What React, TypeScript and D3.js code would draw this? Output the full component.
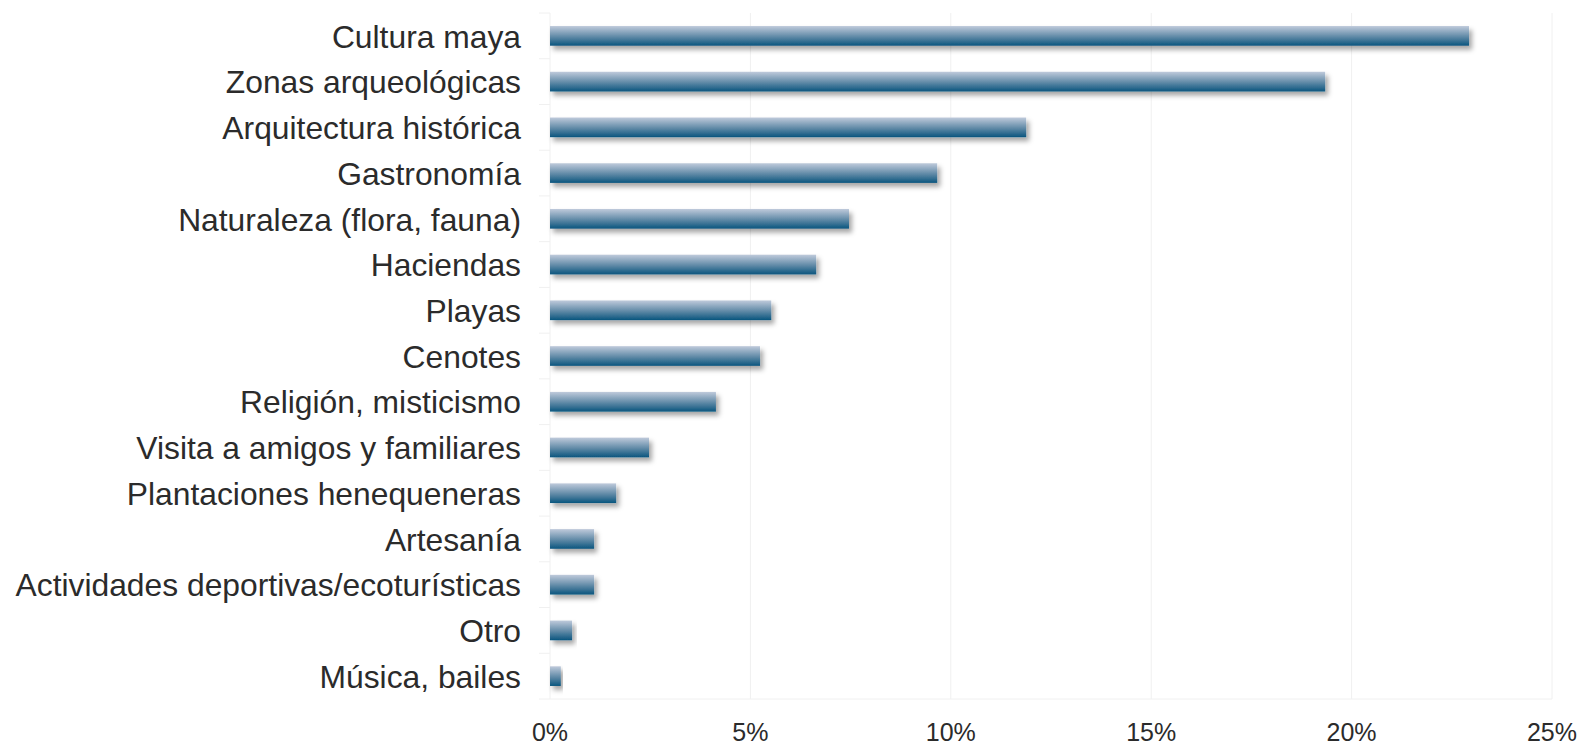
import React, { useEffect } from 'react';
import * as d3 from 'd3';

const categories: string[] = [
  'Cultura maya',
  'Zonas arqueológicas',
  'Arquitectura histórica',
  'Gastronomía',
  'Naturaleza (flora, fauna)',
  'Haciendas',
  'Playas',
  'Cenotes',
  'Religión, misticismo',
  'Visita a amigos y familiares',
  'Plantaciones henequeneras',
  'Artesanía',
  'Actividades deportivas/ecoturísticas',
  'Otro',
  'Música, bailes',
];

const values: number[] = [
  22.93, 19.34, 11.88, 9.66, 7.46, 6.64, 5.52, 5.24, 4.14, 2.47, 1.65, 1.1, 1.1,
  0.55, 0.27,
];

const xTicks: number[] = [0, 5, 10, 15, 20, 25];

interface Row {
  category: string;
  value: number;
}

export default function App() {
  useEffect(() => {
    const width = 1583;
    const height = 745;
    const margin = { top: 13, bottom: 46, left: 550, right: 31 };

    const rows: Row[] = categories.map((c, i) => ({ category: c, value: values[i] }));

    const container = d3.select('#chart');
    container.selectAll('*').remove();

    const svg = container
      .append('svg')
      .attr('width', width)
      .attr('height', height)
      .style('position', 'absolute')
      .style('left', 0)
      .style('top', 0)
      .style('font-family', 'Arial, "Liberation Sans", sans-serif');

    const defs = svg.append('defs');

    const grad = defs
      .append('linearGradient')
      .attr('id', 'barGrad')
      .attr('x1', 0)
      .attr('y1', 0)
      .attr('x2', 0)
      .attr('y2', 1);
    grad.append('stop').attr('offset', '0%').attr('stop-color', '#bfcadb');
    grad.append('stop').attr('offset', '55%').attr('stop-color', '#5f89a6');
    grad.append('stop').attr('offset', '100%').attr('stop-color', '#0a557e');

    const filter = defs
      .append('filter')
      .attr('id', 'barShadow')
      .attr('x', '-20%')
      .attr('y', '-40%')
      .attr('width', '140%')
      .attr('height', '200%');
    filter
      .append('feDropShadow')
      .attr('dx', 3)
      .attr('dy', 4)
      .attr('stdDeviation', 2.5)
      .attr('flood-color', '#000')
      .attr('flood-opacity', 0.35);

    const xScale = d3
      .scaleLinear()
      .domain([0, 25])
      .range([margin.left, width - margin.right]);

    const yScale = d3
      .scaleBand()
      .domain(categories)
      .range([margin.top, height - margin.bottom])
      .paddingInner(0.57)
      .paddingOuter(0.285);

    const step = yScale.step();

    // vertical grid lines
    svg
      .append('g')
      .selectAll('line')
      .data(xTicks)
      .enter()
      .append('line')
      .attr('x1', (d) => xScale(d))
      .attr('x2', (d) => xScale(d))
      .attr('y1', margin.top)
      .attr('y2', height - margin.bottom)
      .attr('stroke', '#f0f0f0')
      .attr('stroke-width', 1);

    // bottom line
    svg
      .append('line')
      .attr('x1', margin.left - 11)
      .attr('x2', width - margin.right)
      .attr('y1', height - margin.bottom)
      .attr('y2', height - margin.bottom)
      .attr('stroke', '#f0f0f0');

    // category ticks
    svg
      .append('g')
      .selectAll('line')
      .data(categories)
      .enter()
      .append('line')
      .attr('x1', margin.left - 11)
      .attr('x2', margin.left)
      .attr('y1', (d) => (yScale(d) as number) - (step - yScale.bandwidth()) / 2)
      .attr('y2', (d) => (yScale(d) as number) - (step - yScale.bandwidth()) / 2)
      .attr('stroke', '#f0f0f0');

    // bars
    svg
      .append('g')
      .selectAll('rect')
      .data(rows)
      .enter()
      .append('rect')
      .attr('x', xScale(0))
      .attr('y', (d) => yScale(d.category) as number)
      .attr('width', (d) => xScale(d.value) - xScale(0))
      .attr('height', yScale.bandwidth())
      .attr('fill', 'url(#barGrad)')
      .attr('filter', 'url(#barShadow)');

    // category labels
    svg
      .append('g')
      .selectAll('text')
      .data(categories)
      .enter()
      .append('text')
      .attr('x', 521)
      .attr('y', (d) => (yScale(d) as number) + yScale.bandwidth() / 2)
      .attr('dy', '0.37em')
      .attr('text-anchor', 'end')
      .attr('font-size', 31.8)
      .attr('fill', '#2b2b2b')
      .text((d) => d);

    // x tick labels
    svg
      .append('g')
      .selectAll('text')
      .data(xTicks)
      .enter()
      .append('text')
      .attr('x', (d) => xScale(d))
      .attr('y', 741)
      .attr('text-anchor', 'middle')
      .attr('font-size', 25)
      .attr('fill', '#2b2b2b')
      .text((d) => `${d}%`);
  }, []);

  return <div id="chart"></div>;
}
